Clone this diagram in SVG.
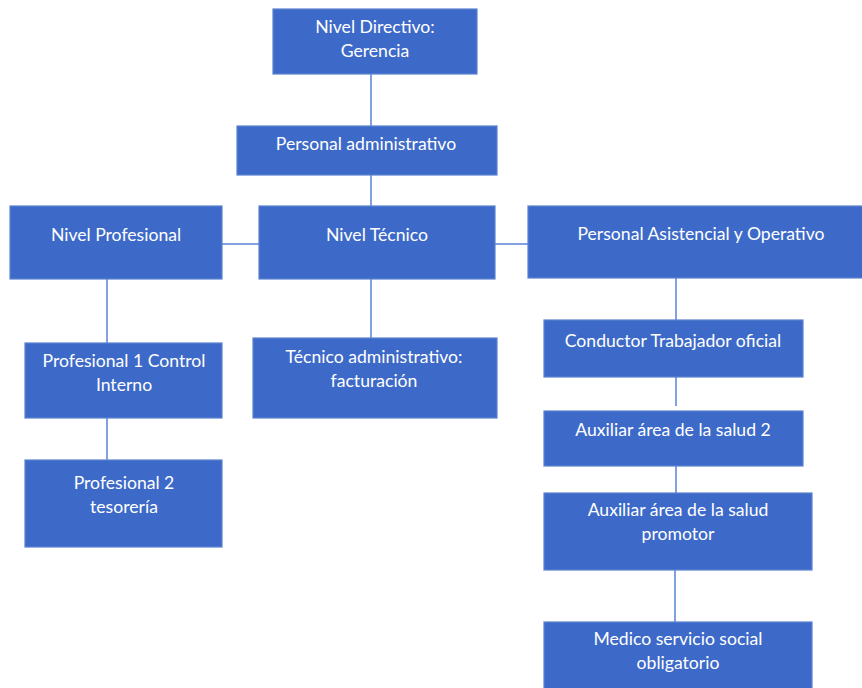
<svg xmlns="http://www.w3.org/2000/svg" width="862" height="688" viewBox="0 0 862 688">
<style>
.box{fill:#3D6AC8;stroke:#5B82D0;stroke-width:1.2}
.t{fill:#FFFFFF;font-family:Lato,"Open Sans","Liberation Sans",sans-serif;font-size:17.6px;text-anchor:middle}
.c{stroke:#5A82D6;stroke-width:1.5;fill:none}
</style>
<rect width="862" height="688" fill="#FFFFFF"/>
<g id="connectors">
<line class="c" x1="371" y1="74" x2="371" y2="126"/>
<line class="c" x1="371" y1="175" x2="371" y2="206"/>
<line class="c" x1="222" y1="244" x2="259" y2="244"/>
<line class="c" x1="495" y1="244" x2="528" y2="244"/>
<line class="c" x1="107" y1="279" x2="107" y2="343"/>
<line class="c" x1="107" y1="418" x2="107" y2="460"/>
<line class="c" x1="371" y1="279" x2="371" y2="338"/>
<line class="c" x1="676" y1="278" x2="676" y2="320"/>
<line class="c" x1="676" y1="377" x2="676" y2="406"/>
<line class="c" x1="676" y1="466" x2="676" y2="493"/>
<line class="c" x1="675" y1="570" x2="675" y2="622"/>
</g>
<g id="n-directivo">
<rect class="box" x="273" y="9" width="204" height="65"/>
<text class="t" x="375" y="33">Nivel Directivo:</text>
<text class="t" x="375" y="57">Gerencia</text>
</g>
<g id="n-administrativo">
<rect class="box" x="237" y="126" width="260" height="49"/>
<text class="t" x="366" y="150">Personal administrativo</text>
</g>
<g id="n-profesional">
<rect class="box" x="10" y="206" width="212" height="73"/>
<text class="t" x="116" y="241">Nivel Profesional</text>
</g>
<g id="n-tecnico">
<rect class="box" x="259" y="206" width="236" height="73"/>
<text class="t" x="377" y="241">Nivel Técnico</text>
</g>
<g id="n-asistencial">
<rect class="box" x="528" y="206" width="346" height="72"/>
<text class="t" x="701" y="240">Personal Asistencial y Operativo</text>
</g>
<g id="n-prof1">
<rect class="box" x="25" y="343" width="197" height="75"/>
<text class="t" x="124" y="367">Profesional 1 Control</text>
<text class="t" x="124" y="391">Interno</text>
</g>
<g id="n-prof2">
<rect class="box" x="25" y="460" width="197" height="87"/>
<text class="t" x="124" y="489">Profesional 2</text>
<text class="t" x="124" y="513">tesorería</text>
</g>
<g id="n-tecadmin">
<rect class="box" x="253" y="338" width="244" height="80"/>
<text class="t" x="374" y="363">Técnico administrativo:</text>
<text class="t" x="374" y="387">facturación</text>
</g>
<g id="n-conductor">
<rect class="box" x="544" y="320" width="259" height="57"/>
<text class="t" x="673" y="347">Conductor Trabajador oficial</text>
</g>
<g id="n-aux2">
<rect class="box" x="544" y="411" width="259" height="55"/>
<text class="t" x="673" y="436">Auxiliar área de la salud 2</text>
</g>
<g id="n-auxpromotor">
<rect class="box" x="544" y="493" width="268" height="77"/>
<text class="t" x="678" y="516">Auxiliar área de la salud</text>
<text class="t" x="678" y="540">promotor</text>
</g>
<g id="n-medico">
<rect class="box" x="544" y="622" width="268" height="70"/>
<text class="t" x="678" y="645">Medico servicio social</text>
<text class="t" x="678" y="669">obligatorio</text>
</g>
</svg>
